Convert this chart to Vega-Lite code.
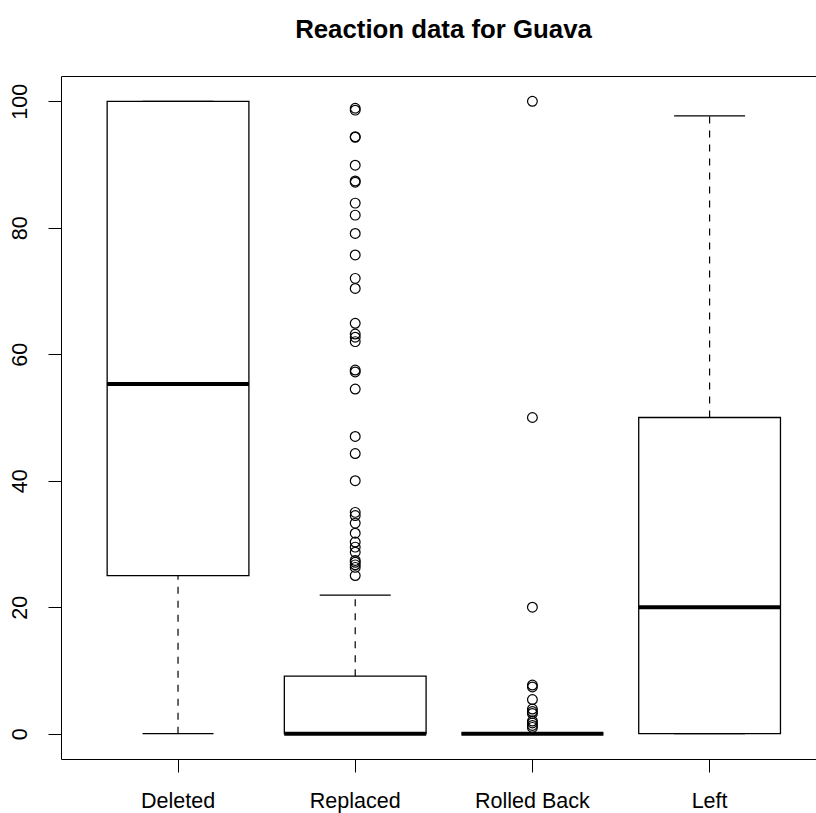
{
  "$schema": "https://vega.github.io/schema/vega-lite/v6.json",
  "width": 755,
  "height": 683,
  "autosize": {"type": "none"},
  "padding": {"left": 61, "top": 76, "right": 0, "bottom": 54},
  "background": "white",
  "title": {
    "text": "Reaction data for Guava",
    "fontSize": 25.8,
    "fontWeight": "bold",
    "font": "Liberation Sans",
    "anchor": "middle",
    "frame": "group",
    "dx": 5,
    "baseline": "alphabetic",
    "offset": 12,
    "color": "black"
  },
  "config": {
    "view": {"stroke": null},
    "font": "Liberation Sans",
    "axis": {
      "domainColor": "black",
      "domainWidth": 1,
      "tickColor": "black",
      "tickWidth": 1,
      "labelColor": "black",
      "grid": false,
      "title": null
    }
  },
  "datasets": {
    "stats": [
      {"group": "Deleted", "lo": 0, "q1": 25, "med": 55.3, "q3": 100, "hi": 100},
      {"group": "Replaced", "lo": 0, "q1": 0, "med": 0, "q3": 9.1, "hi": 21.9},
      {"group": "Rolled Back", "lo": 0, "q1": 0, "med": 0, "q3": 0, "hi": 0},
      {"group": "Left", "lo": 0, "q1": 0, "med": 20, "q3": 50, "hi": 97.7}
    ],
    "outliers": [
      {"group": "Replaced", "value": 98.9},
      {"group": "Replaced", "value": 98.6},
      {"group": "Replaced", "value": 94.4},
      {"group": "Replaced", "value": 94.3},
      {"group": "Replaced", "value": 89.9},
      {"group": "Replaced", "value": 87.4},
      {"group": "Replaced", "value": 87.2},
      {"group": "Replaced", "value": 83.9},
      {"group": "Replaced", "value": 82.0},
      {"group": "Replaced", "value": 79.1},
      {"group": "Replaced", "value": 75.7},
      {"group": "Replaced", "value": 72.0},
      {"group": "Replaced", "value": 70.4},
      {"group": "Replaced", "value": 64.9},
      {"group": "Replaced", "value": 63.2},
      {"group": "Replaced", "value": 62.7},
      {"group": "Replaced", "value": 62.0},
      {"group": "Replaced", "value": 57.5},
      {"group": "Replaced", "value": 57.2},
      {"group": "Replaced", "value": 54.5},
      {"group": "Replaced", "value": 47.0},
      {"group": "Replaced", "value": 44.3},
      {"group": "Replaced", "value": 40.0},
      {"group": "Replaced", "value": 35.0},
      {"group": "Replaced", "value": 34.5},
      {"group": "Replaced", "value": 33.3},
      {"group": "Replaced", "value": 31.7},
      {"group": "Replaced", "value": 30.3},
      {"group": "Replaced", "value": 29.5},
      {"group": "Replaced", "value": 28.7},
      {"group": "Replaced", "value": 27.4},
      {"group": "Replaced", "value": 27.1},
      {"group": "Replaced", "value": 26.7},
      {"group": "Replaced", "value": 26.3},
      {"group": "Replaced", "value": 25.0},
      {"group": "Rolled Back", "value": 100},
      {"group": "Rolled Back", "value": 50},
      {"group": "Rolled Back", "value": 20},
      {"group": "Rolled Back", "value": 7.7},
      {"group": "Rolled Back", "value": 7.4},
      {"group": "Rolled Back", "value": 5.4},
      {"group": "Rolled Back", "value": 3.9},
      {"group": "Rolled Back", "value": 3.5},
      {"group": "Rolled Back", "value": 3.2},
      {"group": "Rolled Back", "value": 2.0},
      {"group": "Rolled Back", "value": 1.7},
      {"group": "Rolled Back", "value": 1.3},
      {"group": "Rolled Back", "value": 1.0}
    ]
  },
  "resolve": {"axis": {"x": "independent", "y": "independent"}},
  "layer": [
    {
      "data": {"name": "stats"},
      "mark": {"type": "rule", "color": "black", "strokeWidth": 1.2, "strokeDash": [7, 7]},
      "encoding": {
        "x": {
          "field": "group", "type": "nominal", "sort": null,
          "scale": {"domain": ["Deleted", "Replaced", "Rolled Back", "Left"], "paddingInner": 0.2, "paddingOuter": 0.2305, "align": 0.565},
          "axis": {"orient": "bottom", "labelAngle": 0, "labelFontSize": 21.5, "labelFont": "Liberation Sans", "tickSize": 13, "labelPadding": 18, "labelBaseline": "top", "domain": true}
        },
        "y": {
          "field": "q3", "type": "quantitative",
          "scale": {"domain": [-4, 104], "nice": false, "zero": false},
          "axis": {"orient": "left", "values": [0, 20, 40, 60, 80, 100], "labelAngle": 270, "labelAlign": "center", "labelBaseline": "alphabetic", "labelFontSize": 21.5, "labelFont": "Liberation Sans", "tickSize": 13, "labelPadding": 22, "domain": true}
        },
        "y2": {"field": "hi"}
      }
    },
    {
      "data": {"name": "stats"},
      "mark": {"type": "rule", "color": "black", "strokeWidth": 1.2, "strokeDash": [7, 7]},
      "encoding": {
        "x": {"field": "group", "type": "nominal", "sort": null, "axis": null},
        "y": {"field": "lo", "type": "quantitative", "axis": null},
        "y2": {"field": "q1"}
      }
    },
    {
      "data": {"name": "stats"},
      "mark": {"type": "bar", "fill": "white", "stroke": "black", "strokeWidth": 1.3, "opacity": 1},
      "encoding": {
        "x": {"field": "group", "type": "nominal", "sort": null, "axis": null},
        "y": {"field": "q1", "type": "quantitative", "axis": null},
        "y2": {"field": "q3"}
      }
    },
    {
      "data": {"name": "stats"},
      "mark": {"type": "tick", "color": "black", "size": 71, "thickness": 1.2, "orient": "horizontal", "opacity": 1},
      "encoding": {
        "x": {"field": "group", "type": "nominal", "sort": null, "axis": null},
        "y": {"field": "hi", "type": "quantitative", "axis": null}
      }
    },
    {
      "data": {"name": "stats"},
      "mark": {"type": "tick", "color": "black", "size": 71, "thickness": 1.2, "orient": "horizontal", "opacity": 1},
      "encoding": {
        "x": {"field": "group", "type": "nominal", "sort": null, "axis": null},
        "y": {"field": "lo", "type": "quantitative", "axis": null}
      }
    },
    {
      "data": {"name": "stats"},
      "mark": {"type": "tick", "color": "black", "size": 142, "thickness": 4, "orient": "horizontal", "opacity": 1},
      "encoding": {
        "x": {"field": "group", "type": "nominal", "sort": null, "axis": null},
        "y": {"field": "med", "type": "quantitative", "axis": null}
      }
    },
    {
      "data": {"name": "outliers"},
      "mark": {"type": "point", "shape": "circle", "filled": false, "stroke": "black", "strokeWidth": 1.2, "size": 95, "opacity": 1},
      "encoding": {
        "x": {"field": "group", "type": "nominal", "sort": null, "axis": {"orient": "top", "labels": false, "ticks": false, "domain": true}},
        "y": {"field": "value", "type": "quantitative", "axis": null}
      }
    }
  ]
}
